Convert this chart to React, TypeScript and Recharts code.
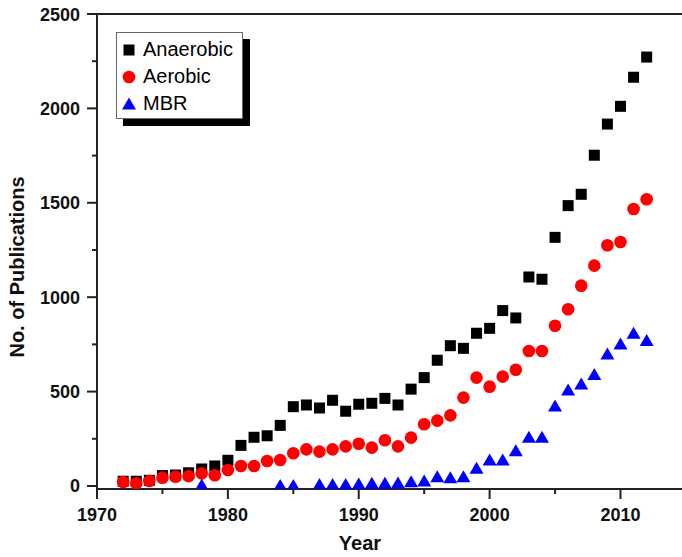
import React from 'react';
import { ScatterChart, Scatter, XAxis, YAxis, ReferenceLine } from 'recharts';

const years = [1972,1973,1974,1975,1976,1977,1978,1979,1980,1981,1982,1983,1984,1985,1986,1987,1988,1989,1990,1991,1992,1993,1994,1995,1996,1997,1998,1999,2000,2001,2002,2003,2004,2005,2006,2007,2008,2009,2010,2011,2012];
const anaerobic = [25,25,30,55,58,70,90,106,136,215,258,266,321,420,429,413,454,396,433,438,464,429,513,574,666,743,729,809,835,929,890,1107,1095,1317,1485,1545,1752,1917,2011,2165,2272];
const aerobic = [21,14,26,44,49,52,67,57,85,106,106,132,138,173,194,182,194,210,224,203,242,210,256,327,346,374,468,574,526,579,616,715,715,849,936,1061,1167,1275,1292,1467,1519];
const mbr: (number | null)[] = [null,null,null,null,null,null,5,null,null,null,null,null,3,3,null,8,8,8,10,14,14,16,23,26,49,44,49,94,138,138,187,258,258,424,508,540,590,699,752,809,770];

const xTicks = [1970,1975,1980,1985,1990,1995,2000,2005,2010];
const yTicks = [0,250,500,750,1000,1250,1500,1750,2000,2250,2500];
const seriesNames = ['Anaerobic', 'Aerobic', 'MBR'];

const anaData = years.map((y, i) => ({ year: y, value: anaerobic[i] }));
const aerData = years.map((y, i) => ({ year: y, value: aerobic[i] }));
const mbrData = years.map((y, i) => ({ year: y, value: mbr[i] })).filter(d => d.value !== null);

const FONT = '"Liberation Sans", Arial, sans-serif';
const AX = '#222';

const SquareShape = (p: any) => <rect x={p.cx - 5.5} y={p.cy - 5.5} width={11} height={11} fill="#000" />;
const CircleShape = (p: any) => <circle cx={p.cx} cy={p.cy} r={6.3} fill="#ff0000" />;
const TriShape = (p: any) => (
  <polygon points={`${p.cx},${p.cy - 6.5} ${p.cx + 7},${p.cy + 5.5} ${p.cx - 7},${p.cy + 5.5}`} fill="#0000ff" />
);

const XTick = (p: any) => {
  const v = p.payload.value;
  const major = v % 10 === 0;
  return (
    <g>
      <line x1={p.x} x2={p.x} y1={p.y} y2={p.y + (major ? 10 : 5)} stroke={AX} strokeWidth={2} />
      {major && (
        <text x={p.x} y={p.y + 32} textAnchor="middle" fontFamily={FONT} fontWeight="bold" fontSize={18} fill="#111">
          {v}
        </text>
      )}
    </g>
  );
};

const YTick = (p: any) => {
  const v = p.payload.value;
  const major = v % 500 === 0;
  return (
    <g>
      <line x1={p.x} x2={p.x - (major ? 10 : 5)} y1={p.y} y2={p.y} stroke={AX} strokeWidth={2} />
      {major && (
        <text x={p.x - 17} y={p.y + 6.5} textAnchor="end" fontFamily={FONT} fontWeight="bold" fontSize={18} fill="#111">
          {v}
        </text>
      )}
    </g>
  );
};

const LegendBox = () => (
  <div
    style={{
      position: 'absolute',
      left: 116,
      top: 32,
      width: 125,
      height: 85,
      border: '1px solid #666',
      background: '#fff',
      boxShadow: '7px 7px 0 #000',
      fontFamily: FONT,
      fontSize: 20,
      color: '#000',
    }}
  >
    {seriesNames.map((n, i) => (
      <div key={n} style={{ position: 'absolute', left: 0, top: 3 + i * 27, height: 27, display: 'flex', alignItems: 'center' }}>
        <svg width={24} height={20} style={{ display: 'block' }}>
          {i === 0 && <rect x={6.5} y={4.5} width={11} height={11} fill="#000" />}
          {i === 1 && <circle cx={12} cy={10} r={6.3} fill="#ff0000" />}
          {i === 2 && <polygon points="12,3.5 19,15.5 5,15.5" fill="#0000ff" />}
        </svg>
        <span style={{ marginLeft: 2, lineHeight: '27px' }}>{n}</span>
      </div>
    ))}
  </div>
);

const XTitle = () => (
  <text x={360} y={550} textAnchor="middle" fontFamily={FONT} fontWeight="bold" fontSize={20} fill="#111">Year</text>
);
const YTitle = () => (
  <text x={17} y={267} transform="rotate(-90 17 267)" textAnchor="middle" dominantBaseline="central" fontFamily={FONT} fontWeight="bold" fontSize={20} fill="#111">No. of Publications</text>
);

export default function App() {
  return (
    <div style={{ position: 'absolute', left: 0, top: 0, width: 682, height: 557, background: '#fff' }}>
      <ScatterChart width={682} height={557} margin={{ top: 14, right: 0, bottom: 0, left: 0 }}>
        <XAxis
          type="number"
          dataKey="year"
          domain={[1970, 2014.7]}
          allowDataOverflow
          ticks={xTicks}
          interval={0}
          tickSize={0}
          tickMargin={0}
          tick={<XTick />}
          height={68}
          axisLine={{ stroke: AX, strokeWidth: 2 }}
          label={{ content: XTitle }}
        />
        <YAxis
          type="number"
          dataKey="value"
          domain={[-16, 2500]}
          allowDataOverflow
          ticks={yTicks}
          interval={0}
          tickSize={0}
          tickMargin={0}
          tick={<YTick />}
          width={97}
          axisLine={{ stroke: AX, strokeWidth: 2 }}
          label={{ content: YTitle }}
        />
        <ReferenceLine y={2500} stroke={AX} strokeWidth={2} />
        <Scatter name="Anaerobic" data={anaData} shape={<SquareShape />} isAnimationActive={false} />
        <Scatter name="Aerobic" data={aerData} shape={<CircleShape />} isAnimationActive={false} />
        <Scatter name="MBR" data={mbrData} shape={<TriShape />} isAnimationActive={false} />
      </ScatterChart>
      <LegendBox />
    </div>
  );
}
